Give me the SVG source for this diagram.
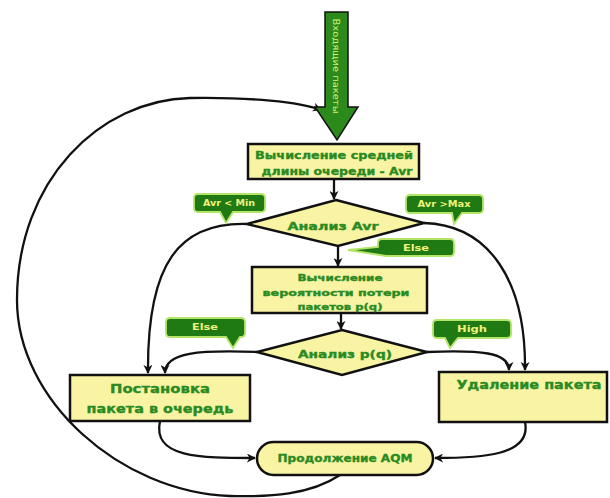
<svg xmlns="http://www.w3.org/2000/svg" width="610" height="498" viewBox="0 0 610 498">
<defs>
<marker id="ah" viewBox="0 0 10 10" refX="9" refY="5" markerWidth="9" markerHeight="9" markerUnits="userSpaceOnUse" orient="auto">
<path d="M0,0 L10,5 L0,10 L3,5 Z" fill="#111"/>
</marker>
<style>
.box{fill:#f8f4a4;stroke:#111;stroke-width:2.5}
.t{font-family:"DejaVu Sans","Liberation Sans",sans-serif;font-weight:bold;fill:#2a8a22;stroke:#2a8a22;stroke-width:0.35;text-anchor:middle}
.co{fill:#1f7a14;stroke:#b4e468;stroke-width:1.8}
.ct{font-family:"DejaVu Sans","Liberation Sans",sans-serif;font-weight:bold;fill:#eef27a;text-anchor:middle;font-size:8.5px}
.ln{fill:none;stroke:#111;stroke-width:2.3;marker-end:url(#ah)}
</style>
</defs>
<rect width="610" height="498" fill="#fff"/>

<g id="connectors">
<path class="ln" d="M334,179 V199"/>
<path class="ln" d="M338,246 V266"/>
<path class="ln" d="M341,313 V329"/>
<path class="ln" d="M247,224 C180,222 147,262 148,373"/>
<path class="ln" d="M257,352 C200,350 165,352 165,373"/>
<path class="ln" d="M424,223 C490,225 526,282 525,370"/>
<path class="ln" d="M427,352 C480,350 509,352 509,370"/>
<path class="ln" d="M160,421 C152,458 200,458 255,458"/>
<path class="ln" d="M525,422 C532,456 480,458 435,458"/>
<path class="ln" d="M340,475 C310,495 270,497 230,496 C120,492 17,400 17,300 C17,180 100,100 190,98 C250,97 300,102 321,110"/>
</g>

<g id="input-arrow">
<path d="M325,12 H348 V107 H358 L337,140 L315,107 H325 Z" fill="#2b8a1a" stroke="#111" stroke-width="1.5"/>
<text transform="translate(333,66) rotate(90)" font-family="DejaVu Sans, Liberation Sans, sans-serif" font-size="8.5" fill="#d6f27a" text-anchor="middle" textLength="95" lengthAdjust="spacingAndGlyphs">Входящие пакеты</text>
</g>

<g id="calc-avr">
<rect class="box" x="248" y="144" width="171" height="35"/>
<text class="t" x="334" y="159" font-size="10.5" textLength="158" lengthAdjust="spacingAndGlyphs">Вычисление средней</text>
<text class="t" x="337" y="175" font-size="10.5" textLength="151" lengthAdjust="spacingAndGlyphs">длины очереди - Avr</text>
</g>

<g id="analyze-avr">
<polygon class="box" points="336,200 424,223 338,246 247,224"/>
<text class="t" x="333" y="230" font-size="10" textLength="91" lengthAdjust="spacingAndGlyphs">Анализ Avr</text>
</g>

<g id="callout-min">
<path class="co" d="M198,194 H261 Q265,194 265,198 V208 Q265,212 261,212 H233 L226,223 L220,212 H198 Q194,212 194,208 V198 Q194,194 198,194 Z"/>
<text class="ct" x="229" y="206" textLength="52" lengthAdjust="spacingAndGlyphs">Avr &lt; Min</text>
</g>

<g id="callout-max">
<path class="co" d="M410,195 H479 Q483,195 483,199 V209 Q483,213 479,213 H462 L454,224 L452,213 H410 Q406,213 406,209 V199 Q406,195 410,195 Z"/>
<text class="ct" x="444" y="207" textLength="53" lengthAdjust="spacingAndGlyphs">Avr &gt;Max</text>
</g>

<g id="callout-else1">
<path class="co" d="M382,239 H450 Q454,239 454,243 V252 Q454,256 450,256 H386 L348,250 L378,247 V243 Q378,239 382,239 Z"/>
<text class="ct" x="416" y="251" textLength="26" lengthAdjust="spacingAndGlyphs">Else</text>
</g>

<g id="calc-pq">
<rect class="box" x="252" y="267" width="175" height="46"/>
<text class="t" x="340" y="281" font-size="9" textLength="85" lengthAdjust="spacingAndGlyphs">Вычисление</text>
<text class="t" x="336" y="296" font-size="9" textLength="147" lengthAdjust="spacingAndGlyphs">вероятности потери</text>
<text class="t" x="340" y="310" font-size="9" textLength="85" lengthAdjust="spacingAndGlyphs">пакетов p(q)</text>
</g>

<g id="analyze-pq">
<polygon class="box" points="342,330 427,352 342,375 257,352"/>
<text class="t" x="345" y="358" font-size="10" textLength="94" lengthAdjust="spacingAndGlyphs">Анализ p(q)</text>
</g>

<g id="callout-else2">
<path class="co" d="M170,318 H241 Q245,318 245,322 V333 Q245,337 241,337 H240 L233,348 L226,337 H170 Q166,337 166,333 V322 Q166,318 170,318 Z"/>
<text class="ct" x="205" y="330" textLength="26" lengthAdjust="spacingAndGlyphs">Else</text>
</g>

<g id="callout-high">
<path class="co" d="M437,320 H507 Q511,320 511,324 V334 Q511,338 507,338 H458 L450,348 L445,338 H437 Q433,338 433,334 V324 Q433,320 437,320 Z"/>
<text class="ct" x="472" y="332" textLength="30" lengthAdjust="spacingAndGlyphs">High</text>
</g>

<g id="enqueue">
<rect class="box" x="70" y="375" width="180" height="46"/>
<text class="t" x="160" y="393" font-size="12.5" textLength="100" lengthAdjust="spacingAndGlyphs">Постановка</text>
<text class="t" x="160" y="413" font-size="12.5" textLength="147" lengthAdjust="spacingAndGlyphs">пакета в очередь</text>
</g>

<g id="drop">
<rect class="box" x="439" y="372" width="168" height="50"/>
<text class="t" x="529" y="389" font-size="12.5" textLength="145" lengthAdjust="spacingAndGlyphs">Удаление пакета</text>
</g>

<g id="continue-aqm">
<rect class="box" x="257" y="442" width="176" height="33" rx="16.5" ry="16.5"/>
<text class="t" x="345" y="462" font-size="10.5" textLength="135" lengthAdjust="spacingAndGlyphs">Продолжение AQM</text>
</g>
</svg>
